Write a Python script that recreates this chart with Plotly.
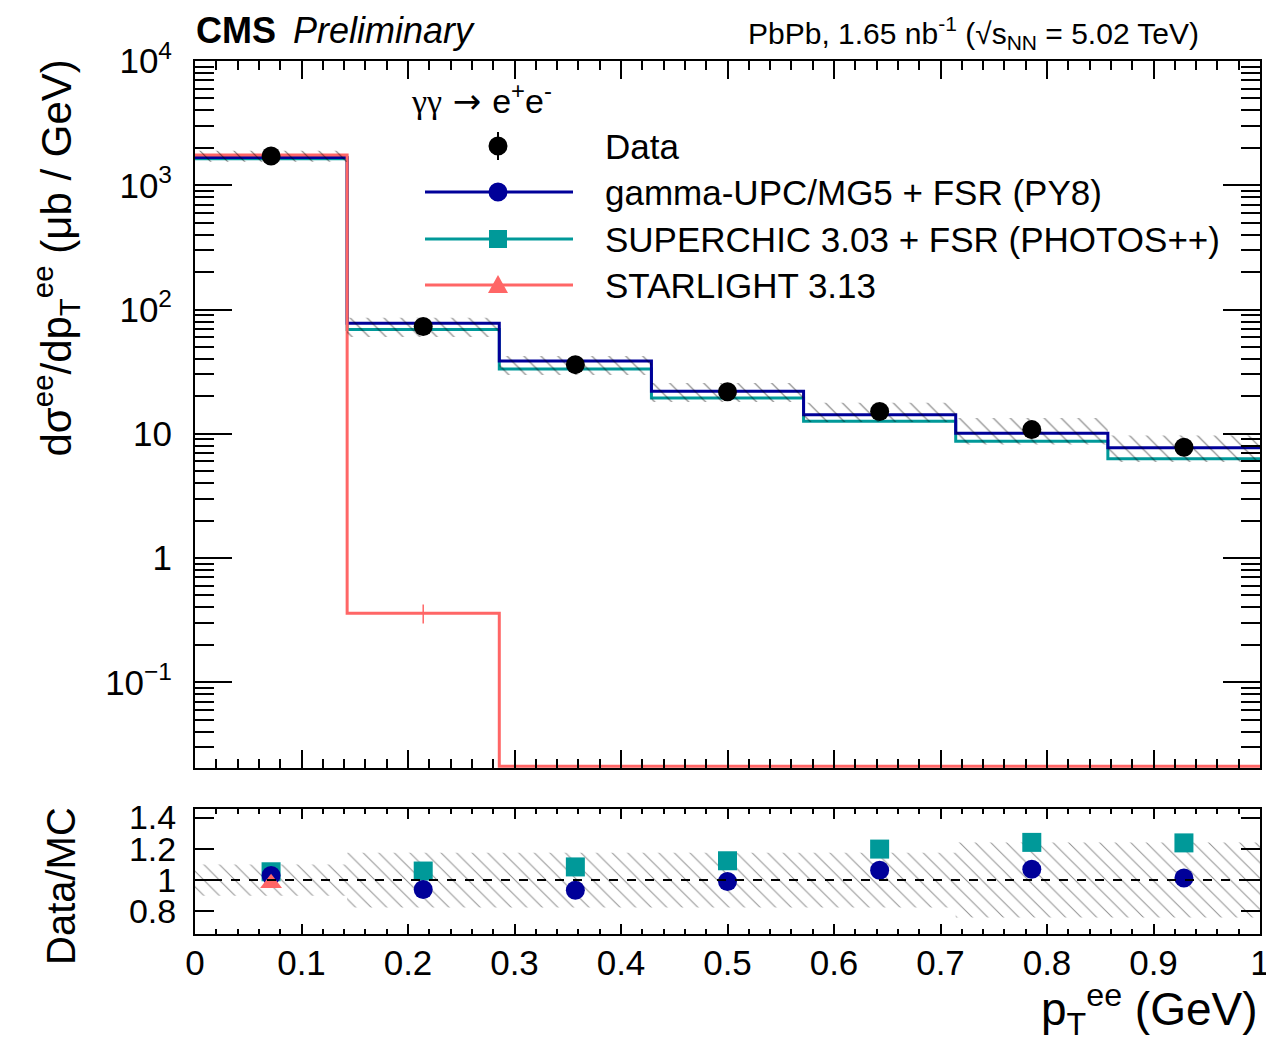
import plotly.graph_objects as go

# ---------------- data ----------------
bin_edges = [0.0, 1/7, 2/7, 3/7, 4/7, 5/7, 6/7, 1.0]
data_xsec = [1720, 73.0, 36.0, 21.8, 15.1, 10.8, 7.8]
data_stat = [40, 2.5, 1.2, 0.8, 0.6, 0.5, 0.4]
syst_rel = [0.10, 0.175, 0.175, 0.175, 0.175, 0.24, 0.24]
gupc = [1670, 77.7, 38.5, 22.0, 14.2, 10.1, 7.7]
superchic = [1633, 69.0, 33.2, 19.4, 12.6, 8.7, 6.3]
starlight = [1755, 0.36, 0, 0, 0, 0, 0]
starlight_err = [15, 0.063, 0, 0, 0, 0, 0]

x_tickvals = [0, 0.1, 0.2, 0.3, 0.4, 0.5, 0.6, 0.7, 0.8, 0.9, 1.0]
x_ticktext = ["0", "0.1", "0.2", "0.3", "0.4", "0.5", "0.6", "0.7", "0.8", "0.9", "1"]
y_tickvals = [0.1, 1, 10, 100, 1000, 10000]
y_ticktext = ["10<sup>\u22121</sup>", "1", "10", "10<sup>2</sup>", "10<sup>3</sup>", "10<sup>4</sup>"]
r_tickvals = [0.8, 1.0, 1.2, 1.4]
r_ticktext = ["0.8", "1", "1.2", "1.4"]

legend_labels = ["Data", "gamma-UPC/MG5 + FSR (PY8)", "SUPERCHIC 3.03 + FSR (PHOTOS++)", "STARLIGHT 3.13"]

# ---------------- styling ----------------
NAVY = "#000099"
TEAL = "#009999"
SALMON = "#FF6666"
FONT = "Liberation Sans, Arial, Helvetica, sans-serif"

W, H = 1266, 1046
L, R, T, B = 195, 6, 61, 112
PW = W - L - R
PH = H - T - B
main_bottom_px = 768
ratio_top_px = 809
ylog_lo, ylog_hi = -1.69, 4.0001


def px(xp):
    return (xp - L) / PW


def py(yp):
    return (H - B - yp) / PH


n = len(data_xsec)
centers = [(bin_edges[i] + bin_edges[i + 1]) / 2 for i in range(n)]


def step_xy(vals):
    return list(bin_edges), list(vals) + [vals[-1]]


def step_band(lo, hi):
    xs, ys = [], []
    for i in range(n):
        xs += [bin_edges[i], bin_edges[i + 1]]
        ys += [hi[i], hi[i]]
    for i in reversed(range(n)):
        xs += [bin_edges[i + 1], bin_edges[i]]
        ys += [lo[i], lo[i]]
    xs.append(xs[0])
    ys.append(ys[0])
    return xs, ys


floor_val = 10 ** (ylog_lo + 0.015)

fig = go.Figure()

# histograms (main)
for vals, col in [(superchic, TEAL), (gupc, NAVY)]:
    xs, ys = step_xy(vals)
    fig.add_trace(go.Scatter(x=xs, y=ys, mode="lines", line=dict(color=col, width=3, shape="hv"),
                             showlegend=False, xaxis="x", yaxis="y"))
sl_draw = [max(v, floor_val) for v in starlight]
xs, ys = step_xy(sl_draw)
fig.add_trace(go.Scatter(x=xs, y=ys, mode="lines", line=dict(color=SALMON, width=3, shape="hv"),
                         showlegend=False, xaxis="x", yaxis="y"))
# starlight MC stat error
sl_idx = [i for i in range(n) if starlight[i] > 0]
fig.add_trace(go.Scatter(x=[centers[i] for i in sl_idx], y=[starlight[i] for i in sl_idx],
                         mode="markers", marker=dict(size=0.1, color=SALMON),
                         error_y=dict(type="data", array=[starlight_err[i] for i in sl_idx],
                                      color=SALMON, thickness=1.5, width=0),
                         showlegend=False, xaxis="x", yaxis="y"))

# systematic band (main)
bx, by = step_band([d * (1 - u) for d, u in zip(data_xsec, syst_rel)],
                   [d * (1 + u) for d, u in zip(data_xsec, syst_rel)])
fig.add_trace(go.Scatter(x=bx, y=by, mode="lines", line=dict(width=0), fill="toself",
                         fillcolor="rgba(0,0,0,0)",
                         fillpattern=dict(shape="\\", size=12, solidity=0.1, fgcolor="black",
                                          bgcolor="rgba(0,0,0,0)"),
                         showlegend=False, hoverinfo="skip", xaxis="x", yaxis="y"))

# data points
fig.add_trace(go.Scatter(x=centers, y=data_xsec, mode="markers",
                         marker=dict(symbol="circle", size=19, color="black"),
                         error_y=dict(type="data", array=data_stat, color="black", thickness=2, width=0),
                         showlegend=False, xaxis="x", yaxis="y"))

# ratio band
rbx, rby = step_band([1 - u for u in syst_rel], [1 + u for u in syst_rel])
fig.add_trace(go.Scatter(x=rbx, y=rby, mode="lines", line=dict(width=0), fill="toself",
                         fillcolor="rgba(0,0,0,0)",
                         fillpattern=dict(shape="\\", size=11, solidity=0.09, fgcolor="#222222",
                                          bgcolor="rgba(0,0,0,0)"),
                         showlegend=False, hoverinfo="skip", xaxis="x2", yaxis="y2"))

# ratio markers
r_sc = [d / m for d, m in zip(data_xsec, superchic)]
r_gu = [d / m for d, m in zip(data_xsec, gupc)]
r_sl = [d / m if m > 0 else None for d, m in zip(data_xsec, starlight)]
fig.add_trace(go.Scatter(x=centers, y=r_sc, mode="markers",
                         marker=dict(symbol="square", size=19, color=TEAL),
                         showlegend=False, xaxis="x2", yaxis="y2"))
fig.add_trace(go.Scatter(x=centers, y=r_gu, mode="markers",
                         marker=dict(symbol="circle", size=19, color=NAVY),
                         showlegend=False, xaxis="x2", yaxis="y2"))
fig.add_trace(go.Scatter(x=centers, y=r_sl, mode="markers",
                         marker=dict(symbol="triangle-up", size=19, color=SALMON),
                         showlegend=False, xaxis="x2", yaxis="y2"))

# ---------------- axes ----------------
main_minor_y = [k * 10 ** e for e in range(-2, 4) for k in range(2, 10)]
x_minor = [i / 50 for i in range(51)]

axis_common = dict(showline=True, linecolor="black", linewidth=2, mirror="allticks",
                   ticks="inside", tickcolor="black", tickwidth=2, showgrid=False,
                   zeroline=False, automargin=False, ticklabeloverflow="allow",
                   tickfont=dict(family=FONT, size=35, color="black"))

fig.update_layout(
    xaxis=dict(axis_common, domain=[0, 1], anchor="y", range=[0, 1], tickmode="array",
               tickvals=x_tickvals, showticklabels=False, ticklen=18,
               minor=dict(tickmode="array", tickvals=x_minor, ticks="inside", ticklen=9,
                          tickcolor="black", tickwidth=2, showgrid=False)),
    yaxis=dict(axis_common, domain=[py(main_bottom_px), 1], anchor="x", type="log",
               range=[ylog_lo, ylog_hi], tickmode="array", tickvals=y_tickvals,
               ticktext=y_ticktext, ticklen=37, ticklabelstandoff=14,
               minor=dict(tickmode="array", tickvals=main_minor_y, ticks="inside", ticklen=19,
                          tickcolor="black", tickwidth=2, showgrid=False)),
    xaxis2=dict(axis_common, domain=[0, 1], anchor="y2", range=[0, 1], tickmode="array",
                tickvals=x_tickvals, ticktext=x_ticktext, ticklen=10, ticklabelstandoff=-3,
                minor=dict(tickmode="array", tickvals=x_minor, ticks="inside", ticklen=5,
                           tickcolor="black", tickwidth=2, showgrid=False)),
    yaxis2=dict(axis_common, domain=[0, py(ratio_top_px)], anchor="x2", range=[0.655, 1.455],
                tickmode="array", tickvals=r_tickvals, ticktext=r_ticktext, ticklen=19,
                ticklabelstandoff=10, tickfont=dict(family=FONT, size=34, color="black")),
    width=W, height=H,
    margin=dict(l=L, r=R, t=T, b=B, autoexpand=False),
    paper_bgcolor="white", plot_bgcolor="white",
    showlegend=False,
    font=dict(family=FONT, color="black"),
)

shapes = []
# dashed line at ratio = 1
shapes.append(dict(type="line", xref="x2 domain", yref="y2", x0=0, x1=1, y0=1, y1=1,
                   line=dict(color="black", width=2, dash="dash")))

# manual legend
leg_x0, leg_x1, leg_mx = 425, 573, 498
leg_y = [146, 192, 239, 285]
rad = 9.5
shapes.append(dict(type="line", xref="paper", yref="paper", x0=px(leg_mx), x1=px(leg_mx),
                   y0=py(leg_y[0] - 14), y1=py(leg_y[0] + 14), line=dict(color="black", width=2)))
shapes.append(dict(type="circle", xref="paper", yref="paper", x0=px(leg_mx - rad), x1=px(leg_mx + rad),
                   y0=py(leg_y[0] + rad), y1=py(leg_y[0] - rad), fillcolor="black", line=dict(width=0)))
for yy, col in zip(leg_y[1:], [NAVY, TEAL, SALMON]):
    shapes.append(dict(type="line", xref="paper", yref="paper", x0=px(leg_x0), x1=px(leg_x1),
                       y0=py(yy), y1=py(yy), line=dict(color=col, width=3)))
shapes.append(dict(type="circle", xref="paper", yref="paper", x0=px(leg_mx - rad), x1=px(leg_mx + rad),
                   y0=py(leg_y[1] + rad), y1=py(leg_y[1] - rad), fillcolor=NAVY, line=dict(width=0)))
shapes.append(dict(type="rect", xref="paper", yref="paper", x0=px(leg_mx - 9), x1=px(leg_mx + 9),
                   y0=py(leg_y[2] + 9), y1=py(leg_y[2] - 9), fillcolor=TEAL, line=dict(width=0)))
tri = "M {:.5f},{:.5f} L {:.5f},{:.5f} L {:.5f},{:.5f} Z".format(
    px(leg_mx - 10), py(leg_y[3] + 8), px(leg_mx + 10), py(leg_y[3] + 8), px(leg_mx), py(leg_y[3] - 10))
shapes.append(dict(type="path", xref="paper", yref="paper", path=tri, fillcolor=SALMON, line=dict(width=0)))
fig.update_layout(shapes=shapes)

ann = []
for yy, lab in zip(leg_y, legend_labels):
    ann.append(dict(xref="paper", yref="paper", x=px(603), y=py(yy), xanchor="left", yanchor="middle",
                    text=lab, showarrow=False, font=dict(family=FONT, size=35, color="black")))
ann.append(dict(xref="paper", yref="paper", x=px(409), y=py(99), xanchor="left", yanchor="middle",
                text="<span style=\"font-family:'Liberation Serif'\">\u03b3\u03b3</span>"
                     "<span style=\"font-family:'DejaVu Sans'\"> \u2192 </span>e<sup>+</sup>e<sup>-</sup>",
                showarrow=False, font=dict(family=FONT, size=34, color="black")))
# header texts
ann.append(dict(xref="paper", yref="paper", x=px(194), y=py(31), xanchor="left", yanchor="middle",
                text="<b>CMS</b>", showarrow=False, font=dict(family=FONT, size=36, color="black")))
ann.append(dict(xref="paper", yref="paper", x=px(291), y=py(31), xanchor="left", yanchor="middle",
                text="<i>Preliminary</i>", showarrow=False, font=dict(family=FONT, size=36, color="black")))
ann.append(dict(xref="paper", yref="paper", x=px(1201), y=py(33), xanchor="right", yanchor="middle",
                text="PbPb, 1.65 nb<sup>-1</sup> (\u221as<sub>NN</sub> = 5.02 TeV)", showarrow=False,
                font=dict(family=FONT, size=30, color="black")))
# axis titles
ann.append(dict(xref="paper", yref="paper", x=px(56), y=py(58), xanchor="center", yanchor="top",
                textangle=-90, text="d\u03c3<sup>ee</sup>/dp<sub>T</sub><sup>ee</sup> (\u03bcb / GeV)",
                showarrow=False, font=dict(family=FONT, size=42, color="black")))
ann.append(dict(xref="paper", yref="paper", x=px(61), y=py(805), xanchor="center", yanchor="top",
                textangle=-90, text="Data/MC", showarrow=False, font=dict(family=FONT, size=40, color="black")))
ann.append(dict(xref="paper", yref="paper", x=px(1260), y=py(1010), xanchor="right", yanchor="middle",
                text="p<sub>T</sub><sup>ee</sup> (GeV)", showarrow=False,
                font=dict(family=FONT, size=46, color="black")))
fig.update_layout(annotations=ann)

fig.write_html("out.html", config={"displayModeBar": False},
               post_script="document.body.style.margin='0';document.body.style.padding='0';"
                           "document.body.style.overflow='hidden';")
